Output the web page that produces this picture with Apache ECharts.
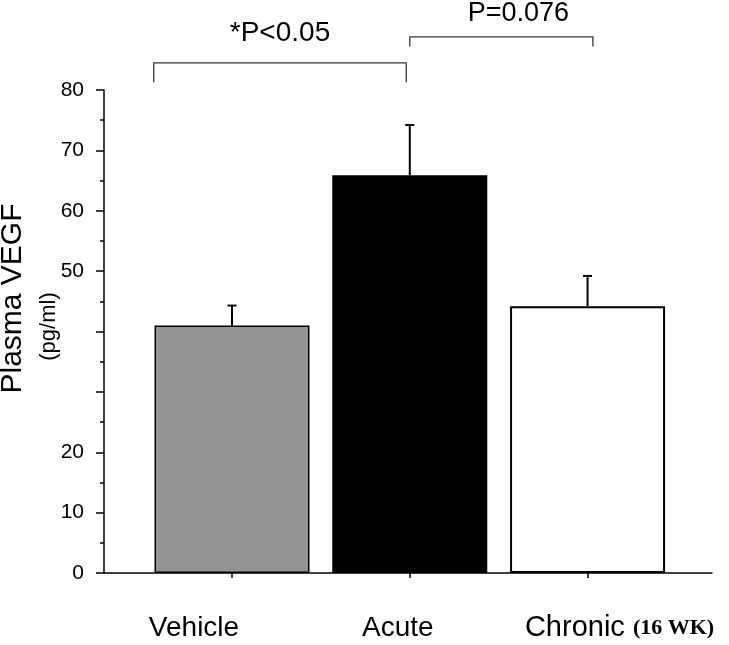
<!DOCTYPE html>
<html><head><meta charset="utf-8">
<script src="https://cdn.jsdelivr.net/npm/echarts@6/dist/echarts.min.js"></script>
<style>html,body{margin:0;padding:0;background:#fff}#c{width:729px;height:645px}</style>
</head><body><div id="c"></div>
<script>
// ---- data ----
const categories = ['Vehicle', 'Acute', 'Chronic'];
const categorySuffix = ['', '', '(16 WK)'];
const categoryPos = [0, 1, 2];
const means = [41.0, 65.9, 44.2];
const errors = [3.3, 8.3, 5.0];
const yTickValues = [0, 10, 20, 30, 40, 50, 60, 70, 80];
const yTickLabels = ['0', '10', '20', '', '', '50', '60', '70', '80'];
const bracketFrom = [-0.44, 1.0];
const bracketTo = [0.98, 2.03];
const bracketTop = [84.5, 88.8];
const bracketEnd = [81.3, 87.2];
const bracketText = ['*P<0.05', 'P=0.076'];

// ---- styles ----
const FONT = "'Liberation Sans', Arial, sans-serif";
const barColors = ['#939393', '#000000', '#ffffff'];
const barBorders = [1.5, 0, 2];
const bracketTextOffset = [[0, -30], [17, -23]];
const bracketFont = [28, 27];

const chart = echarts.init(document.getElementById('c'), null, {renderer: 'canvas'});

const labelRich = {
  v0: {fontSize: 28, fontFamily: FONT, color: '#000', lineHeight: 32, padding: [0, 76, 0, 0]},
  v1: {fontSize: 28, fontFamily: FONT, color: '#000', lineHeight: 32, padding: [0, 24, 0, 0]},
  v2: {fontSize: 29, fontFamily: FONT, color: '#000', lineHeight: 32, padding: [0, 0, 0, 64]},
  s: {fontSize: 22, fontFamily: "'Liberation Serif', 'Times New Roman', serif", fontWeight: 'bold', color: '#000', lineHeight: 32}
};

const option = {
  animation: false,
  backgroundColor: '#fff',
  grid: {left: 104, right: 17, top: 90, bottom: 72, containLabel: false, outerBoundsMode: 'none'},
  xAxis: {
    type: 'value', min: -0.72, max: 2.7,
    axisLine: {show: true, onZero: false, lineStyle: {color: '#000', width: 1.5}},
    axisTick: {show: true, customValues: categoryPos, length: 5, lineStyle: {color: '#000', width: 1.5}},
    axisLabel: {
      customValues: categoryPos, margin: 39, hideOverlap: false, showMinLabel: true, showMaxLabel: true,
      formatter: function (v) {
        const i = categoryPos.indexOf(Math.round(v));
        if (i < 0) return '';
        let s = '{v' + i + '|' + categories[i] + (categorySuffix[i] ? ' ' : '') + '}';
        if (categorySuffix[i]) s += '{s|' + categorySuffix[i] + '}';
        return s;
      },
      rich: labelRich
    },
    splitLine: {show: false}
  },
  yAxis: {
    type: 'value', min: 0, max: 80, interval: 10,
    axisLine: {show: true, onZero: false, lineStyle: {color: '#000', width: 1.5}},
    axisTick: {show: true, length: 8, lineStyle: {color: '#000', width: 1.5}},
    minorTick: {show: true, splitNumber: 2, length: 4, lineStyle: {color: '#000', width: 1.5}},
    axisLabel: {
      fontSize: 21, fontFamily: FONT, color: '#000', margin: 20, showMinLabel: true, showMaxLabel: true,
      formatter: function (v) {
        const i = yTickValues.indexOf(v);
        return i < 0 ? '' : yTickLabels[i];
      }
    },
    splitLine: {show: false},
    name: '{a|Plasma VEGF}\n{b|(pg/ml)}',
    nameLocation: 'middle', nameRotate: 90, nameGap: 37, nameMoveOverlap: false,
    nameTextStyle: {
      color: '#000',
      rich: {
        a: {fontSize: 30, fontFamily: FONT, color: '#000', lineHeight: 36, padding: [0, 0, 0, 66]},
        b: {fontSize: 22, fontFamily: FONT, color: '#000', lineHeight: 36, padding: [0, 0, 0, 10]}
      }
    }
  },
  series: [
    {
      type: 'bar', barWidth: 155, z: 2,
      data: categoryPos.map(function (x, i) {
        return {
          value: [x, means[i]],
          itemStyle: {color: barColors[i], borderColor: '#000', borderWidth: barBorders[i]}
        };
      })
    },
    {
      type: 'custom', z: 3, clip: false,
      data: categoryPos.map(function (x, i) { return [x, means[i], errors[i]]; }),
      renderItem: function (params, api) {
        const x = api.value(0), m = api.value(1), e = api.value(2);
        const p0 = api.coord([x, m]), p1 = api.coord([x, m + e]);
        const st = {stroke: '#000', lineWidth: 2};
        return {
          type: 'group',
          children: [
            {type: 'line', shape: {x1: p0[0], y1: p0[1], x2: p1[0], y2: p1[1]}, style: st},
            {type: 'line', shape: {x1: p1[0] - 4.5, y1: p1[1], x2: p1[0] + 4.5, y2: p1[1]}, style: st}
          ]
        };
      }
    },
    {
      type: 'custom', z: 4, clip: false,
      data: bracketFrom.map(function (x, i) { return [x, bracketTop[i], bracketTo[i], bracketEnd[i]]; }),
      renderItem: function (params, api) {
        const i = params.dataIndex;
        const x1 = api.value(0), top = api.value(1), x2 = api.value(2), end = api.value(3);
        const a = api.coord([x1, top]), b = api.coord([x2, top]);
        const ae = api.coord([x1, end]), be = api.coord([x2, end]);
        const off = bracketTextOffset[i];
        return {
          type: 'group',
          children: [
            {type: 'polyline', shape: {points: [ae, a, b, be]}, style: {stroke: '#333', lineWidth: 1.3, fill: null}},
            {type: 'text', x: (a[0] + b[0]) / 2 + off[0], y: a[1] + off[1],
             style: {text: bracketText[i], fill: '#000', font: bracketFont[i] + 'px ' + FONT, align: 'center', verticalAlign: 'middle'}}
          ]
        };
      }
    }
  ]
};
chart.setOption(option);
</script>
</body></html>
